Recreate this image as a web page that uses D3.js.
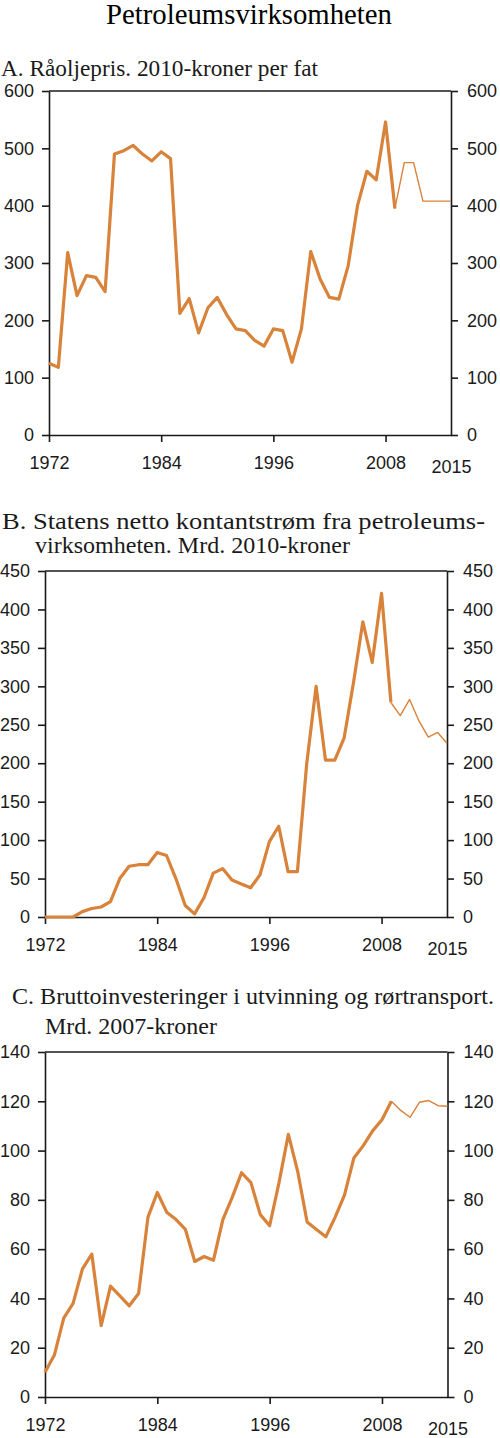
<!DOCTYPE html>
<html>
<head>
<meta charset="utf-8">
<script src="https://cdn.jsdelivr.net/npm/d3@7"></script>
<style>
  body { margin: 0; background: #fff; }
  svg { display: block; }
</style>
</head>
<body>
<svg id="chart" width="500" height="1438"></svg>
<script>
// years 1972-2015, thick line up to 2009, thin (projection) after
const years = d3.range(1972, 2016)
const splitYear = 2009
const xTicks = [1972, 1984, 1996, 2008, 2015]

// A. Raoljepris, 2010-kroner per fat
const oilPrice = [125, 118, 318, 243, 278, 275, 250, 490, 496, 505, 490, 478, 494, 482,
  212, 238, 178, 222, 240, 210, 185, 182, 165, 155, 185, 182, 127, 185, 320, 272, 240,
  237, 295, 400, 460, 445, 546, 395, 475, 475, 408, 408, 408, 408]
const oilTicks = [0, 100, 200, 300, 400, 500, 600]

// B. Statens netto kontantstrom, mrd. 2010-kroner
const cashFlow = [0, 0, 0, 0, 7, 11, 13, 20, 50, 66, 68, 68, 84, 80, 50, 15, 4, 25, 57,
  63, 48, 43, 38, 55, 98, 118, 59, 59, 200, 300, 204, 204, 233, 305, 384, 331, 421, 279,
  262, 283, 255, 234, 240, 226]
const cashTicks = [0, 50, 100, 150, 200, 250, 300, 350, 400, 450]

// C. Bruttoinvesteringer, mrd. 2007-kroner
const investment = [10, 17, 32, 38, 52, 58, 29, 45, 41, 37, 42, 73, 83, 75, 72, 68, 55,
  57, 55.5, 72, 81, 91, 87, 74, 69.5, 87, 106.6, 91.5, 71, 68, 65, 73, 82, 97, 102, 108,
  112.5, 120, 116.3, 113.5, 119.6, 120.3, 118.2, 118]
const investTicks = [0, 20, 40, 60, 80, 100, 120, 140]

const orange = '#d8823a'
const ink = '#1a1a1a'
const serif = '"Liberation Serif", "Times New Roman", serif'
const svg = d3.select('#chart')

svg.append('text')
  .attr('x', 106).attr('y', 24)
  .attr('font-family', serif)
  .attr('font-size', '28.5px')
  .attr('textLength', 286).attr('lengthAdjust', 'spacingAndGlyphs')
  .text('Petroleumsvirksomheten')

// the original glyphs are a little wider, so each line is fitted to its measured width
function title(lines){
  lines.forEach(l => {
    svg.append('text')
      .attr('x', l.x).attr('y', l.y)
      .attr('font-family', serif)
      .attr('font-size', '22.5px')
      .attr('fill', ink)
      .attr('textLength', l.w).attr('lengthAdjust', 'spacingAndGlyphs')
      .text(l.text)
  })
}

function panel(values, ticks, box){
  const x = d3.scaleLinear().domain([1972, 2015]).range([box.left, box.right])
  const y = d3.scaleLinear().domain([0, d3.max(ticks)]).range([box.bottom, box.top])
  const g = svg.append('g')

  // top frame line
  g.append('line')
    .attr('x1', box.left).attr('x2', box.right)
    .attr('y1', box.top).attr('y2', box.top)
    .attr('stroke', ink).attr('stroke-width', 1.6)

  const left = g.append('g')
    .attr('transform', 'translate(' + box.left + ',0)')
    .call(d3.axisLeft(y).tickValues(ticks).tickSize(7).tickPadding(8).tickSizeOuter(0))
  const right = g.append('g')
    .attr('transform', 'translate(' + box.right + ',0)')
    .call(d3.axisRight(y).tickValues(ticks).tickSize(7).tickPadding(9).tickSizeOuter(0))
  const bottom = g.append('g')
    .attr('transform', 'translate(0,' + box.bottom + ')')
    .call(d3.axisBottom(x).tickValues(xTicks).tickFormat(d3.format('d')).tickSize(7).tickPadding(14).tickSizeOuter(0))

  // last year label sits a bit lower and has no tick
  bottom.selectAll('.tick').filter(d => d === 2015).select('line').remove()
  bottom.selectAll('.tick').filter(d => d === 2015).select('text').attr('y', 25)

  ;[left, right, bottom].forEach(a => {
    a.selectAll('path, line').attr('stroke', ink).attr('stroke-width', 1.6)
    a.selectAll('text')
      .attr('fill', ink)
      .attr('font-family', '"Liberation Sans", Arial, sans-serif')
      .attr('font-size', '18px')
  })

  const pts = years.map((yr, i) => ({year: yr, value: values[i]}))
  const line = d3.line().x(d => x(d.year)).y(d => y(d.value))

  g.append('path')
    .datum(pts.filter(d => d.year <= splitYear))
    .attr('d', line)
    .attr('fill', 'none').attr('stroke', orange)
    .attr('stroke-width', 3.2).attr('stroke-linejoin', 'round')
  g.append('path')
    .datum(pts.filter(d => d.year >= splitYear))
    .attr('d', line)
    .attr('fill', 'none').attr('stroke', orange)
    .attr('stroke-width', 1.4).attr('stroke-linejoin', 'round')
}

title([{x: 1, y: 76, w: 317, text: 'A. Råoljepris. 2010-kroner per fat'}])
panel(oilPrice, oilTicks, {left: 49, right: 451, top: 91, bottom: 435})

title([
  {x: 2, y: 529, w: 483, text: 'B. Statens netto kontantstrøm fra petroleums-'},
  {x: 35, y: 553, w: 315, text: 'virksomheten. Mrd. 2010-kroner'}
])
panel(cashFlow, cashTicks, {left: 45, right: 447, top: 571, bottom: 917})

title([
  {x: 12, y: 1004, w: 482, text: 'C. Bruttoinvesteringer i utvinning og rørtransport.'},
  {x: 45, y: 1034, w: 172, text: 'Mrd. 2007-kroner'}
])
panel(investment, investTicks, {left: 45, right: 447.5, top: 1052, bottom: 1397})
</script>
</body>
</html>
